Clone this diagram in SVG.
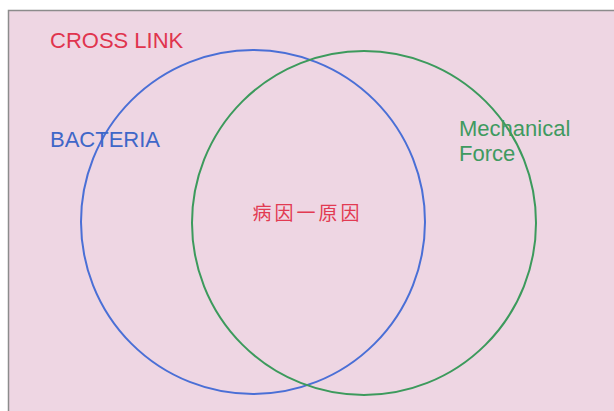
<svg xmlns="http://www.w3.org/2000/svg" width="614" height="411" viewBox="0 0 614 411">
<style>
.lbl{font-family:"Liberation Sans",Arial,sans-serif;font-size:22px}
.cj{font-family:"Noto Sans CJK SC","Noto Sans CJK JP",sans-serif;font-size:19px;letter-spacing:3px}
.ring{fill:none;stroke-width:2}
</style>
<rect x="0" y="0" width="614" height="411" fill="#ffffff"/>
<rect id="panel" x="8.5" y="10.5" width="610" height="405" fill="#eed6e3" stroke="#8c8c8c" stroke-width="1.5"/>
<g id="connectors"></g>
<g id="bacteria">
<circle class="ring" cx="253" cy="222" r="172" stroke="#4a6fd6"/>
<text class="lbl" x="50" y="147" fill="#3f67c8">BACTERIA</text>
</g>
<g id="mechanical">
<circle class="ring" cx="364" cy="223" r="172" stroke="#3c9a5c"/>
<text class="lbl" x="459" y="136" fill="#3f9a60">Mechanical</text>
<text class="lbl" x="459" y="161" fill="#3f9a60">Force</text>
</g>
<g id="crosslink">
<text class="lbl" x="50" y="48" fill="#e0344e">CROSS LINK</text>
</g>
<g id="cause">
<text class="cj" x="307.5" y="220" text-anchor="middle" fill="#e23a52">病因一原因</text>
</g>
</svg>
